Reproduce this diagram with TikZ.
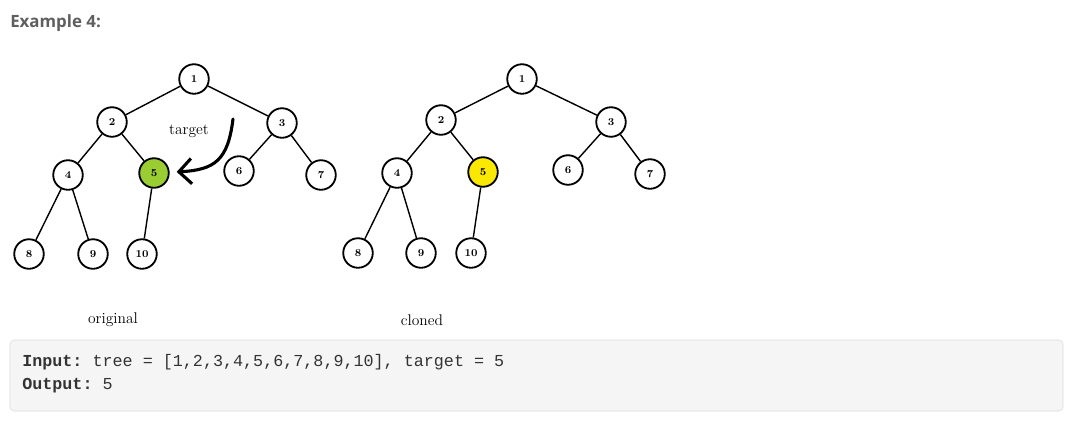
\documentclass[tikz,border=0pt]{standalone}
\usepackage{fontspec}
\setmonofont{Liberation Mono}
\newfontfamily\titlefont{Open Sans}
\usetikzlibrary{positioning, arrows.meta}
\tikzset{>=latex}
\definecolor{mygreen}{RGB}{154,205,50}
\definecolor{myyellow}{RGB}{250,232,0}
\definecolor{codebg}{RGB}{245,245,245}
\definecolor{codeborder}{RGB}{218,218,218}
\definecolor{titlegray}{RGB}{95,95,95}
\definecolor{codetext}{RGB}{51,51,51}
\tikzset{
  treenode/.style={draw, circle, line width=1.3pt, minimum size=21pt, inner sep=0pt,
    fill=white, font=\bfseries\fontsize{7.5}{8}\selectfont},
  treeedge/.style={line width=1pt},
  caption/.style={font=\fontsize{11}{13}\selectfont},
  codeline/.style={anchor=west, inner sep=0pt, text=codetext,
    font=\ttfamily\fontsize{11.9}{14}\selectfont}
}

\begin{document}
\begin{tikzpicture}[x=0.025cm, y=-0.025cm]
  \useasboundingbox (0,0) rectangle (1075,429);

  % Title
  \node[anchor=west, inner sep=0pt, text=titlegray, font=\titlefont\bfseries\fontsize{12}{14}\selectfont] (title) at (10,23) {Example 4:};

  % Original tree
  \foreach \n/\x/\y in {1/194/79, 2/112/122, 3/282/123, 4/68/175, 5/154/173,
                        6/239/171, 7/321/175, 8/29/254, 9/93/254, 10/142/254}{
    \ifnum\n=5
      \node[treenode, fill=mygreen] (o\n) at (\x,\y) {\n};
    \else
      \node[treenode] (o\n) at (\x,\y) {\n};
    \fi
  }
  % Cloned tree
  \foreach \n/\x/\y in {1/522/79, 2/441/120, 3/611/122, 4/397/173, 5/483/172,
                        6/568/170, 7/650/174, 8/358/253, 9/421/253, 10/471/253}{
    \ifnum\n=5
      \node[treenode, fill=myyellow] (c\n) at (\x,\y) {\n};
    \else
      \node[treenode] (c\n) at (\x,\y) {\n};
    \fi
  }

  % Edges
  \foreach \a/\b in {1/2, 1/3, 2/4, 2/5, 3/6, 3/7, 4/8, 4/9, 5/10}{
    \draw[treeedge] (o\a) -- (o\b);
    \draw[treeedge] (c\a) -- (c\b);
  }

  % Target arrow
  \node[caption] (target) at (189,131) {target};
  \coordinate (tgtstart) at (233,119);
  \draw[line width=2.2pt, line cap=round, shorten >=5pt,
        -{Straight Barb[length=9pt, width=18pt]}]
    (tgtstart) .. controls (228,160) and (215,170) .. (o5);

  % Captions
  \node[caption] (original) at (113,320) {original};
  \node[caption] (cloned) at (422,320) {cloned};

  % Code box
  \draw[codeborder, fill=codebg, rounded corners=3pt] (10,340) rectangle (1063,411);
  \node[codeline] (input) at (22,362) {\textbf{Input:} tree = [1,2,3,4,5,6,7,8,9,10], target = 5};
  \node[codeline] (output) at (22,386) {\textbf{Output:} 5};
\end{tikzpicture}
\end{document}
